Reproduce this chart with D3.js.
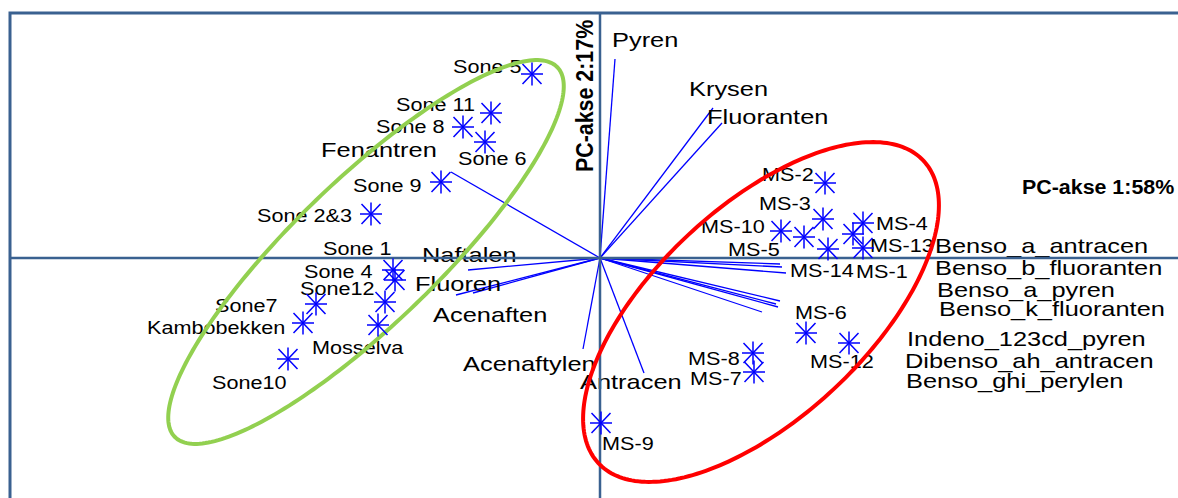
<!DOCTYPE html>
<html><head><meta charset="utf-8">
<script src="https://cdn.jsdelivr.net/npm/d3@7"></script>
<style>html,body{margin:0;padding:0;background:#fff;overflow:hidden}</style>
</head><body><svg id="c" width="1178" height="498"></svg>
<script>
// ---- data (PCA scores and loadings) ----
const sampleNames = ["Sone 5","Sone 11","Sone 8","Sone 6","Sone 9","Sone 2&3","Sone 1","Sone 4","Sone12","Mosselva","Sone7","Kambobekken","Sone10",
  "MS-2","MS-3","MS-10","MS-5","MS-14","MS-4","MS-13","MS-1","MS-6","MS-12","MS-8","MS-7","MS-9"];
const samplePC1 = [-0.68,-1.09,-1.37,-1.15,-1.59,-2.29,-2.07,-2.05,-2.15,-2.22,-2.84,-2.97,-3.12,
  2.25,2.23,1.81,2.04,2.28,2.63,2.53,2.63,2.06,2.49,1.53,1.54,0.01];
const samplePC2 = [1.84,1.45,1.31,1.16,0.76,0.44,-0.12,-0.22,-0.44,-0.67,-0.46,-0.65,-1.01,
  0.75,0.39,0.27,0.21,0.09,0.35,0.24,0.10,-0.75,-0.85,-0.95,-1.14,-1.65];

const varNames = ["Pyren","Krysen","Fluoranten","Fenantren","Naftalen","Fluoren","Acenaften","Acenaftylen","Antracen",
  "Benso_a_antracen","Benso_b_fluoranten","Benso_a_pyren","Benso_k_fluoranten","Indeno_123cd_pyren","Dibenso_ah_antracen","Benso_ghi_perylen"];
const varPC1 = [0.15,1.13,1.22,-1.49,-1.32,-1.27,-1.44,-0.17,0.44,1.80,1.82,1.86,1.80,1.78,1.62,1.76];
const varPC2 = [1.99,1.50,1.35,0.86,-0.12,-0.35,-0.37,-0.91,-1.15,-0.06,-0.09,-0.15,-0.43,-0.49,-0.54,-0.46];

const groupNames = ["Sone","MS"];
const groupCenterPC1 = [-2.34, 1.61];
const groupCenterPC2 = [0.06, -0.54];
const groupSemiMajor = [2.66, 2.22];
const groupSemiMinor = [0.72, 1.06];
const groupAngleDeg = [44, 42.9];

const axisTitles = ["PC-akse 1:58%","PC-akse 2:17%"];

// ---- layout (label offsets in px from their mark) ----
const sampleLabelOffsets = [[-79,-1],[-95,-2],[-87,6],[-27,23],[-88,10],[-114,8],[-70,-15],[-91,-2],[-85,-7],[-66,29],[-101,8],[-156,11],[-76,30],
  [-63,-2],[-64,-9],[-80,2],[-76,19],[-38,28],[13,7],[17,18],[-7,30],[-11,-14],[-39,25],[-65,12],[-64,13],[1,27]];
const varLabelOffsets = [[-3,-12],[-24,-12],[-15,1],[-130,-15],[-46,-8],[-58,-2],[-23,27],[-120,22],[-64,16],
  [155,-11],[153,8],[151,24],[159,15],[129,39],[143,56],[130,84]];

const W = 1178, H = 498;
const svg = d3.select("#c");
const x = d3.scaleLinear().domain([-5.9, 5.78]).range([10, 1178]);
const y = d3.scaleLinear().domain([2.45, -2.4]).range([13, 498]);

const frameColor = "#3a6190";
const blue = "#0000ff";
const font = "'Liberation Sans', Arial, sans-serif";

// frame (extends beyond the view on right and bottom)
svg.append("rect").attr("x", x(-5.9)).attr("y", y(2.45)).attr("width", 1300).attr("height", 600)
  .attr("fill", "none").attr("stroke", frameColor).attr("stroke-width", 3);

// loading vectors
svg.append("g").selectAll("line").data(varNames).join("line")
  .attr("x1", x(0)).attr("y1", y(0))
  .attr("x2", (d,i) => x(varPC1[i])).attr("y2", (d,i) => y(varPC2[i]))
  .attr("stroke", blue).attr("stroke-width", 1.3);

// variable labels
svg.append("g").selectAll("text").data(varNames).join("text")
  .attr("transform", (d,i) => `translate(${x(varPC1[i]) + varLabelOffsets[i][0]},${y(varPC2[i]) + varLabelOffsets[i][1]}) scale(1.21,1)`)
  .attr("font-family", font).attr("font-size", 21).attr("fill", "#000")
  .text(d => d);

// sample labels
svg.append("g").selectAll("text").data(sampleNames).join("text")
  .attr("transform", (d,i) => `translate(${x(samplePC1[i]) + sampleLabelOffsets[i][0]},${y(samplePC2[i]) + sampleLabelOffsets[i][1]}) scale(1.17,1)`)
  .attr("font-family", font).attr("font-size", 18.5).attr("fill", "#000")
  .text(d => d);

// axes through origin
svg.append("line").attr("x1", x(-5.9)).attr("x2", x(5.78)).attr("y1", y(0)).attr("y2", y(0))
  .attr("stroke", frameColor).attr("stroke-width", 2.5);
svg.append("line").attr("x1", x(0)).attr("x2", x(0)).attr("y1", y(2.45)).attr("y2", y(-2.4))
  .attr("stroke", frameColor).attr("stroke-width", 2.5);

// axis titles
svg.append("text")
  .attr("transform", `translate(${x(4.22)},${y(0.64)}) scale(1.07,1)`)
  .attr("font-family", font).attr("font-size", 20).attr("font-weight", "bold").text(axisTitles[0]);
svg.append("text")
  .attr("transform", `translate(${x(-0.07)},${y(0.86)}) scale(1.17,1.07) rotate(-90)`)
  .attr("font-family", font).attr("font-size", 20).attr("font-weight", "bold").text(axisTitles[1]);

// group ellipses
const ellipseColors = ["#92d050", "#ff0000"];
const line = d3.line().curve(d3.curveLinearClosed);
groupNames.forEach((g, k) => {
  const th = groupAngleDeg[k] * Math.PI / 180;
  const pts = d3.range(240).map(j => {
    const t = j / 240 * 2 * Math.PI;
    const ex = groupSemiMajor[k] * Math.cos(t), ey = groupSemiMinor[k] * Math.sin(t);
    const px = groupCenterPC1[k] + ex * Math.cos(th) - ey * Math.sin(th);
    const py = groupCenterPC2[k] + ex * Math.sin(th) + ey * Math.cos(th);
    return [x(px), y(py)];
  });
  svg.append("path").attr("d", line(pts)).attr("fill", "none")
    .attr("stroke", ellipseColors[k]).attr("stroke-width", 4);
});

// asterisk markers
const mk = svg.append("g").selectAll("g").data(sampleNames).join("g")
  .attr("transform", (d,i) => `translate(${x(samplePC1[i])},${y(samplePC2[i])})`)
  .attr("stroke", blue).attr("stroke-width", 1.5);
const arms = [[-11,0,11,0],[0,-11.5,0,11.5],[-9.5,-10,9.5,10],[-9.5,10,9.5,-10]];
arms.forEach(a => mk.append("line").attr("x1", a[0]).attr("y1", a[1]).attr("x2", a[2]).attr("y2", a[3]));
</script>
</body></html>
